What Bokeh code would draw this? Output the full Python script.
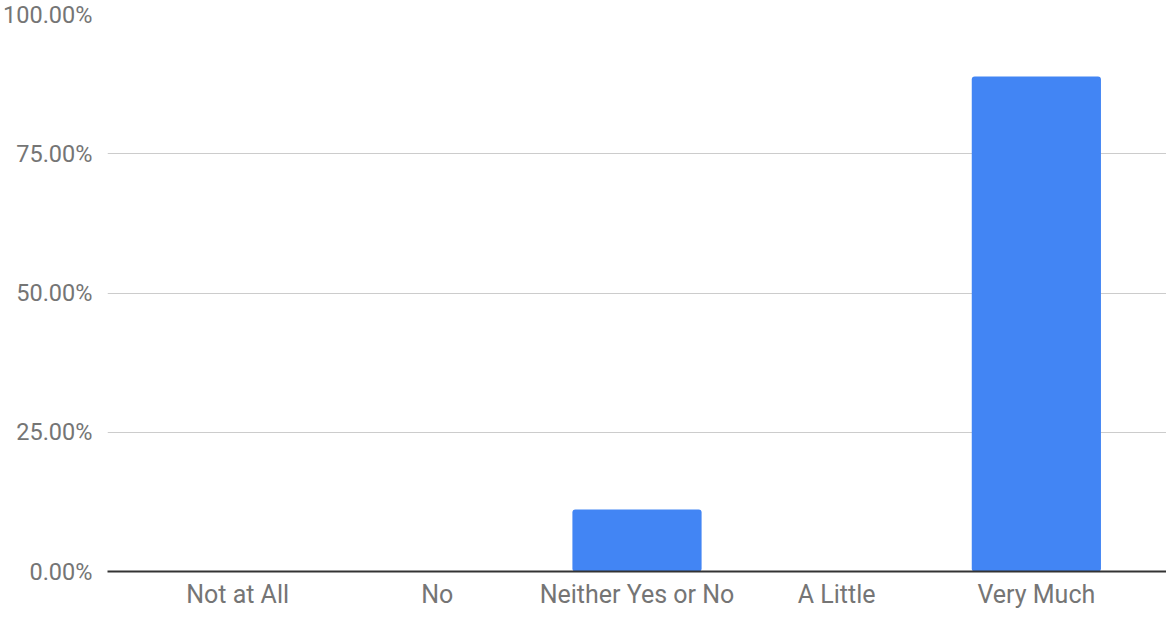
from bokeh.plotting import figure
from bokeh.models import ColumnDataSource, FactorRange, Range1d, FixedTicker, NumeralTickFormatter
from bokeh.embed import file_html
from bokeh.resources import INLINE

categories = ["Not at All", "No", "Neither Yes or No", "A Little", "Very Much"]
shares = [0.0, 0.0, 0.1111, 0.0, 0.8889]
y_ticks = [0, 0.25, 0.5, 0.75, 1.0]

src = ColumnDataSource(dict(cat=categories, val=shares))

p = figure(width=1166, height=611, output_backend="svg", toolbar_location=None,
           x_range=FactorRange(*categories, range_padding=0.0607),
           y_range=Range1d(0, 1.0),
           min_border_left=100, min_border_right=0, min_border_top=14, min_border_bottom=38)
p.outline_line_color = None
p.background_fill_color = "white"
p.border_fill_color = "white"

p.vbar(x="cat", top="val", width=0.647, source=src, color="#4285F4",
       line_color=None, border_radius=3)

font = "Roboto"
tick_color = "#757575"

p.yaxis.ticker = FixedTicker(ticks=y_ticks)
p.yaxis.formatter = NumeralTickFormatter(format="0.00%")
p.yaxis.axis_line_color = None
p.yaxis.major_tick_line_color = None
p.yaxis.minor_tick_line_color = None
p.yaxis.major_tick_out = 0
p.yaxis.major_label_standoff = 15
p.yaxis.major_label_text_font = font
p.yaxis.major_label_text_font_size = "23.5px"
p.yaxis.major_label_text_color = tick_color

p.xaxis.axis_line_color = "#333333"
p.xaxis.axis_line_width = 2
p.xaxis.major_tick_line_color = None
p.xaxis.minor_tick_line_color = None
p.xaxis.major_tick_out = 0
p.xaxis.major_label_standoff = 8
p.xaxis.major_label_text_font = font
p.xaxis.major_label_text_font_size = "25px"
p.xaxis.major_label_text_color = tick_color

p.xgrid.grid_line_color = None
p.ygrid.ticker = FixedTicker(ticks=y_ticks)
p.ygrid.grid_line_color = "#cccccc"
p.ygrid.grid_line_width = 1.2

open("out.html", "w").write(file_html(p, INLINE))
